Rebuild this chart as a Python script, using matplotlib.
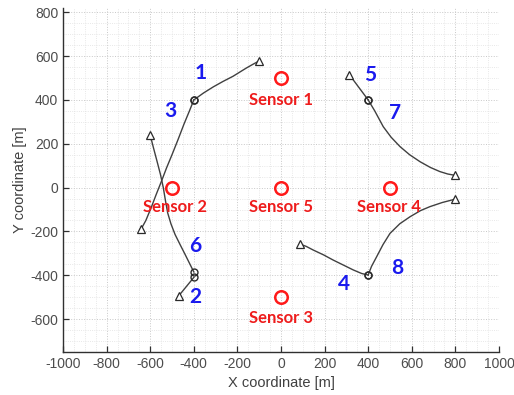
import matplotlib.pyplot as plt
from matplotlib.ticker import MultipleLocator

plt.rcParams['axes.unicode_minus'] = False

# sensor positions [m]
sensor_x = [0, -500, 0, 500, 0]
sensor_y = [500, 0, -500, 0, 0]
sensor_names = ['Sensor 1', 'Sensor 2', 'Sensor 3', 'Sensor 4', 'Sensor 5']
sensor_label_x = [0, -485, 0, 495, 0]
sensor_label_y = [400, -90, -595, -90, -90]

# trajectories, each going from the shared point (circle) to the free end (triangle)
traj_1 = ([-400, -355, -310, -265, -220, -160, -130, -100],
          [400, 432, 460, 485, 508, 545, 562, 578])
traj_3 = ([-400, -420, -445, -472, -500, -525, -548, -572, -595, -620, -642],
          [400, 350, 290, 220, 150, 90, 30, -30, -90, -150, -190])
traj_6 = ([-400, -420, -440, -463, -486, -505, -520, -530, -540, -553, -570, -586, -600],
          [-385, -345, -305, -260, -214, -165, -115, -60, 0, 60, 125, 185, 240])
traj_2 = ([-400, -470], [-410, -495])
traj_5 = ([400, 313], [400, 516])
traj_7 = ([400, 430, 469, 505, 546, 590, 638, 685, 729, 765, 798],
          [400, 350, 278, 230, 187, 150, 118, 92, 73, 62, 56])
traj_4 = ([400, 370, 332, 285, 240, 195, 148, 115, 87],
          [-399, -392, -376, -353, -331, -307, -285, -268, -258])
traj_8 = ([400, 415, 439, 468, 500, 545, 592, 640, 683, 740, 798],
          [-399, -360, -315, -260, -209, -165, -133, -105, -87, -68, -53])
trajectories = [traj_1, traj_3, traj_6, traj_2, traj_5, traj_7, traj_4, traj_8]

# path numbers and where they sit
num_text = ['1', '3', '5', '7', '6', '2', '4', '8']
num_x = [-367, -509, 408, 523, -394, -394, 289, 532]
num_y = [523, 350, 514, 341, -267, -500, -441, -367]

fig = plt.figure(figsize=(5.14, 3.95), dpi=100)
ax = fig.add_axes([0.1226, 0.109, 0.8482, 0.871])

ax.set_xlim(-1000, 1000)
ax.set_ylim(-750, 820)
ax.xaxis.set_major_locator(MultipleLocator(200))
ax.yaxis.set_major_locator(MultipleLocator(200))
ax.xaxis.set_minor_locator(MultipleLocator(50))
ax.yaxis.set_minor_locator(MultipleLocator(50))
ax.grid(True, which='major', linestyle=':', color='#c8c8c8', linewidth=0.7)
ax.grid(True, which='minor', linestyle=':', color='#e0e0e0', linewidth=0.6)
ax.set_axisbelow(True)

for sp in ['top', 'right']:
    ax.spines[sp].set_visible(False)
for sp in ['left', 'bottom']:
    ax.spines[sp].set_color('#303030')
    ax.spines[sp].set_linewidth(1.0)
ax.tick_params(which='major', direction='in', length=4, width=0.9, color='#303030',
               labelsize=10, labelcolor='#4d4d4d')
ax.tick_params(which='minor', length=0)
for lab in ax.get_xticklabels() + ax.get_yticklabels():
    lab.set_family('Liberation Sans')

for xs, ys in trajectories:
    ax.plot(xs, ys, color='#404040', linewidth=1.0, zorder=3)
    ax.plot(xs[0], ys[0], 'o', markersize=5, markerfacecolor='none',
            markeredgecolor='#2a2a2a', markeredgewidth=1.0, zorder=4)
    ax.plot(xs[-1], ys[-1], '^', markersize=6, markerfacecolor='white',
            markeredgecolor='#2a2a2a', markeredgewidth=0.9, zorder=4)

ax.plot(sensor_x, sensor_y, 'o', linestyle='none', markersize=9,
        markerfacecolor='none', markeredgecolor='#ff1a1a', markeredgewidth=1.8, zorder=5)
for name, tx, ty in zip(sensor_names, sensor_label_x, sensor_label_y):
    ax.text(tx, ty, name, color='#ee1c1c', fontsize=12, fontweight='bold',
            family='Lato', ha='center', va='center', zorder=6)

for t, tx, ty in zip(num_text, num_x, num_y):
    ax.text(tx, ty, t, color='#1a1aee', fontsize=15, fontweight='bold',
            family='Lato', ha='center', va='center', zorder=6)

ax.set_xlabel('X coordinate [m]', fontsize=10.5, color='#404040',
              family='Liberation Sans', labelpad=4)
ax.set_ylabel('Y coordinate [m]', fontsize=10.5, color='#404040',
              family='Liberation Sans', labelpad=2)

fig.savefig('out.png', dpi=100)
